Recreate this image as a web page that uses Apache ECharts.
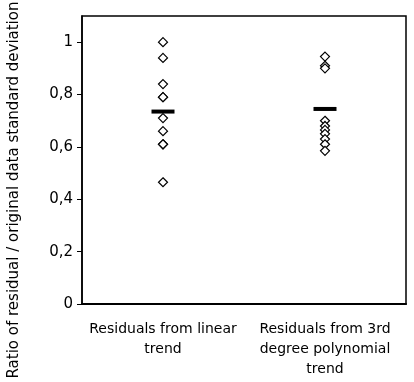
<!DOCTYPE html>
<html>
<head>
<meta charset="utf-8">
<script src="https://cdn.jsdelivr.net/npm/echarts@6/dist/echarts.min.js"></script>
<style>
  html, body { margin: 0; padding: 0; background: #fff; }
  #chart { width: 414px; height: 382px; }
</style>
</head>
<body>
<div id="chart"></div>
<script>
var categories = ['Residuals from linear\ntrend', 'Residuals from 3rd\ndegree polynomial\ntrend'];
var linearRatios = [1.0, 0.94, 0.84, 0.79, 0.79, 0.71, 0.66, 0.61, 0.61, 0.465];
var polyRatios = [0.945, 0.91, 0.90, 0.70, 0.68, 0.665, 0.65, 0.63, 0.61, 0.585];
var means = [0.735, 0.745];
var yTicks = [0, 0.2, 0.4, 0.6, 0.8, 1];

var points = [];
linearRatios.forEach(function (v) { points.push([0, v]); });
polyRatios.forEach(function (v) { points.push([1, v]); });

var chart = echarts.init(document.getElementById('chart'));
chart.setOption({
  backgroundColor: '#fff',
  animation: false,
  textStyle: { fontFamily: 'DejaVu Sans' },
  grid: {
    left: 82, right: 8, top: 16, bottom: 78,
    show: true, borderColor: '#000', borderWidth: 1.5
  },
  xAxis: {
    type: 'category',
    data: categories,
    axisLine: { lineStyle: { color: '#000', width: 2 } },
    axisTick: { length: 5, lineStyle: { color: '#000' } },
    axisLabel: { color: '#000', fontSize: 14, lineHeight: 20, margin: 15, interval: 0 }
  },
  yAxis: {
    type: 'value',
    min: 0, max: 1.1, interval: 0.2,
    splitLine: { show: false },
    axisLine: { show: true, lineStyle: { color: '#000', width: 1.5 } },
    axisTick: { show: true, length: 5, customValues: yTicks, lineStyle: { color: '#000' } },
    axisLabel: {
      color: '#000', fontSize: 15, margin: 9,
      customValues: yTicks,
      formatter: function (v) {
        return String(Math.round(v * 10) / 10).replace('.', ',');
      }
    }
  },
  graphic: [{
    type: 'text',
    x: 14, y: 190,
    rotation: Math.PI / 2,
    style: {
      text: 'Ratio of residual / original data standard deviation',
      fill: '#000', fontSize: 15, fontFamily: 'DejaVu Sans',
      align: 'center', verticalAlign: 'middle'
    }
  }],
  series: [{
    type: 'scatter',
    data: points,
    symbol: 'diamond',
    symbolSize: 9,
    itemStyle: { color: '#fff', borderColor: '#000', borderWidth: 1.2, opacity: 1 }
  }, {
    type: 'scatter',
    data: means.map(function (m, i) { return [i, m]; }),
    symbol: 'rect',
    symbolSize: [23, 4],
    itemStyle: { color: '#000', opacity: 1 },
    z: 3
  }]
});
</script>
</body>
</html>
